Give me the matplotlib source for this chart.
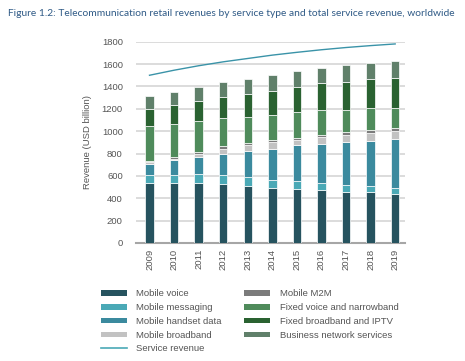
import matplotlib
matplotlib.use("Agg")
import matplotlib.pyplot as plt
import numpy as np
from matplotlib.patches import Patch
from matplotlib.lines import Line2D

years = ["2009", "2010", "2011", "2012", "2013", "2014", "2015", "2016", "2017", "2018", "2019"]
mobile_voice = [536, 536, 536, 527, 506, 488, 485, 470, 452, 452, 437]
mobile_messaging = [70, 71, 83, 80, 86, 77, 65, 66, 63, 57, 54]
mobile_handset_data = [101, 131, 146, 190, 235, 280, 322, 348, 389, 407, 437]
mobile_broadband = [14, 14, 30, 48, 45, 62, 53, 62, 66, 72, 75]
mobile_m2m = [16, 18, 18, 18, 18, 15, 18, 18, 21, 18, 21]
fixed_voice = [310, 292, 276, 253, 235, 224, 226, 226, 199, 202, 184]
fixed_broadband = [149, 170, 179, 193, 208, 214, 223, 238, 253, 256, 265]
business = [114, 116, 127, 128, 134, 143, 149, 134, 149, 149, 158]
service_revenue = [1500, 1545, 1585, 1620, 1650, 1680, 1705, 1728, 1748, 1765, 1780]

series = [
    ("Mobile voice", mobile_voice, "#26535f"),
    ("Mobile messaging", mobile_messaging, "#4aa9b6"),
    ("Mobile handset data", mobile_handset_data, "#3b8a9e"),
    ("Mobile broadband", mobile_broadband, "#c2c2c2"),
    ("Mobile M2M", mobile_m2m, "#7b7b7b"),
    ("Fixed voice and narrowband", fixed_voice, "#4f8b5b"),
    ("Fixed broadband and IPTV", fixed_broadband, "#2a6231"),
    ("Business network services", business, "#60806a"),
]

plt.rcParams['font.family'] = ['Liberation Sans', 'DejaVu Sans']

fig = plt.figure(figsize=(4.65, 3.61), dpi=100)
fig.patch.set_facecolor("white")
W, H = 465, 361
ax = fig.add_axes([136 / W, 1 - 243 / H, (405 - 136) / W, (243 - 41.7) / H])

x = np.arange(len(years))
bottom = np.zeros(len(years))
for name, vals, col in series:
    v = np.array(vals, dtype=float)
    ax.bar(x, v, bottom=bottom, width=0.34, color=col, edgecolor="white", linewidth=0.5, zorder=3)
    bottom += v

ax.plot(x, service_revenue, color="#3a93a8", linewidth=1.0, zorder=4)

ax.set_ylim(0, 1800)
ax.set_xlim(-0.55, 10.4)
ax.set_yticks(np.arange(0, 1801, 200))
ax.set_xticks(x)
ax.set_xticklabels(years, rotation=90)
ax.tick_params(axis="both", length=0, labelsize=6.8, labelcolor="#555555")
ax.tick_params(axis="y", pad=9.5)
ax.tick_params(axis="x", pad=4)
ax.grid(axis="y", color="#d9d9d9", linewidth=1.3, zorder=0)
for s in ["top", "right", "left"]:
    ax.spines[s].set_visible(False)
ax.spines["bottom"].set_color("#a6a6a6")
ax.spines["bottom"].set_linewidth(1.5)
ax.set_ylabel("Revenue (USD billion)", fontsize=6.8, color="#555555", labelpad=7)

fig.text(8 / W, 1 - 13 / H,
         "Figure 1.2: Telecommunication retail revenues by service type and total service revenue, worldwide",
         fontsize=7.4, color="#2f5a86", family=["Lato", "DejaVu Sans"], va="center", ha="left")

handles = []
labels = []
order = [0, 1, 2, 3, None, 4, 5, 6, 7]
for i in order:
    if i is None:
        handles.append(Line2D([0], [0], color="#4aa9b6", linewidth=1.2))
        labels.append("Service revenue")
    else:
        name, vals, col = series[i]
        handles.append(Patch(facecolor=col, edgecolor="none"))
        labels.append(name)

leg = fig.legend(handles, labels, ncol=2, loc="upper left",
                 bbox_to_anchor=(92 / W, 1 - 281 / H), frameon=False,
                 fontsize=6.8, handlelength=2.8, handleheight=0.5,
                 labelspacing=0.5, columnspacing=2.3, handletextpad=1.0)
for t in leg.get_texts():
    t.set_color("#555555")

fig.savefig("out.png", dpi=100, facecolor="white")
